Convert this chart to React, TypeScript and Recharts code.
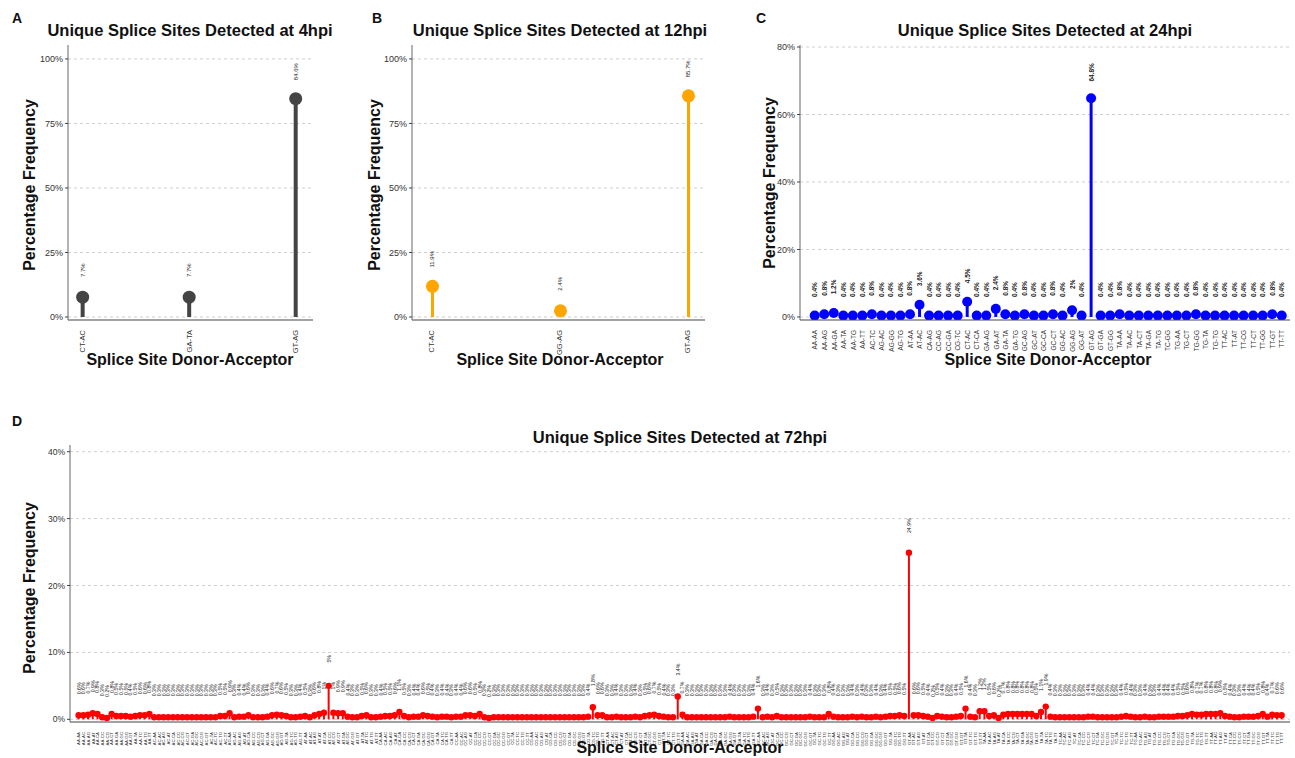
import React from 'react';
import { BarChart, Bar, XAxis, YAxis, CartesianGrid } from 'recharts';

const FONT = '"Liberation Sans", Arial, Helvetica, sans-serif';

// Panel A - 4hpi
const catsA = ['CT-AC', 'GA-TA', 'GT-AG'];
const valsA = [7.7, 7.7, 84.6];

// Panel B - 12hpi
const catsB = ['CT-AC', 'GG-AG', 'GT-AG'];
const valsB = [11.9, 2.4, 85.7];

// Panel C - 24hpi
const catsC = [
  'AA-AA', 'AA-AG', 'AA-GA', 'AA-TA', 'AA-TG', 'AA-TT', 'AC-TC', 'AG-AC', 'AG-GG', 'AG-TG',
  'AT-AA', 'AT-AC', 'CA-AG', 'CC-AG', 'CC-GA', 'CG-TC', 'CT-AC', 'CT-CA', 'GA-AG', 'GA-AT',
  'GA-TA', 'GA-TG', 'GC-AG', 'GC-AT', 'GC-CA', 'GC-CT', 'GG-AC', 'GG-AG', 'GG-AT', 'GT-AG',
  'GT-GA', 'GT-GG', 'TA-AA', 'TA-AC', 'TA-CT', 'TA-GA', 'TA-TG', 'TC-GG', 'TG-AA', 'TG-CT',
  'TG-GG', 'TG-TA', 'TG-TG', 'TT-AC', 'TT-AT', 'TT-CG', 'TT-CT', 'TT-GG', 'TT-GT', 'TT-TT',
];
const valsC = [
  0.4, 0.8, 1.2, 0.4, 0.4, 0.4, 0.8, 0.4, 0.4, 0.4,
  0.8, 3.6, 0.4, 0.4, 0.4, 0.4, 4.5, 0.4, 0.4, 2.4,
  0.8, 0.4, 0.8, 0.4, 0.4, 0.8, 0.4, 2, 0.4, 64.8,
  0.4, 0.4, 0.8, 0.4, 0.4, 0.4, 0.4, 0.4, 0.4, 0.4,
  0.8, 0.4, 0.4, 0.4, 0.4, 0.4, 0.4, 0.4, 0.8, 0.4,
];

// Panel D - 72hpi
const catsD = `
AA-AA AA-AC AA-AG AA-AT AA-CA AA-CC AA-CG AA-CT AA-GA AA-GC AA-GG AA-GT AA-TA AA-TC AA-TG AA-TT
AC-AA AC-AC AC-AG AC-AT AC-CA AC-CC AC-CG AC-CT AC-GA AC-GC AC-GG AC-GT AC-TA AC-TC AC-TG AC-TT
AG-AA AG-AC AG-AG AG-AT AG-CA AG-CC AG-CG AG-CT AG-GA AG-GC AG-GG AG-GT AG-TA AG-TC AG-TG AG-TT
AT-AA AT-AC AT-AG AT-AT AT-CA AT-CC AT-CG AT-CT AT-GA AT-GC AT-GG AT-GT AT-TA AT-TC AT-TG AT-TT
CA-AA CA-AC CA-AG CA-AT CA-CA CA-CC CA-CG CA-CT CA-GA CA-GC CA-GG CA-GT CA-TA CA-TC CA-TG CA-TT
CC-AA CC-AC CC-AG CC-AT CC-CA CC-CC CC-CG CC-CT CC-GA CC-GC CC-GG CC-GT CC-TA CC-TC CC-TG CC-TT
CG-AA CG-AC CG-AG CG-AT CG-CA CG-CC CG-CG CG-CT CG-GA CG-GC CG-GG CG-GT CG-TA CG-TC CG-TG CG-TT
CT-AA CT-AC CT-AG CT-AT CT-CA CT-CC CT-CG CT-CT CT-GA CT-GC CT-GG CT-GT CT-TA CT-TC CT-TG CT-TT
GA-AA GA-AC GA-AG GA-AT GA-CA GA-CC GA-CG GA-CT GA-GA GA-GC GA-GG GA-GT GA-TA GA-TC GA-TG GA-TT
GC-AA GC-AC GC-AG GC-AT GC-CA GC-CC GC-CG GC-CT GC-GA GC-GC GC-GG GC-GT GC-TA GC-TC GC-TG GC-TT
GG-AA GG-AC GG-AG GG-AT GG-CA GG-CC GG-CG GG-CT GG-GA GG-GC GG-GG GG-GT GG-TA GG-TC GG-TG GG-TT
GT-AA GT-AC GT-AG GT-AT GT-CA GT-CC GT-CG GT-CT GT-GA GT-GC GT-GG GT-GT GT-TA GT-TC GT-TG GT-TT
TA-AA TA-AC TA-AG TA-AT TA-CA TA-CC TA-CG TA-CT TA-GA TA-GC TA-GG TA-GT TA-TA TA-TC TA-TG TA-TT
TC-AA TC-AC TC-AG TC-AT TC-CA TC-CC TC-CG TC-CT TC-GA TC-GC TC-GG TC-GT TC-TA TC-TC TC-TG TC-TT
TG-AA TG-AC TG-AG TG-AT TG-CA TG-CC TG-CG TG-CT TG-GA TG-GC TG-GG TG-GT TG-TA TG-TC TG-TG TG-TT
TT-AA TT-AC TT-AG TT-AT TT-CA TT-CC TT-CG TT-CT TT-GA TT-GC TT-GG TT-GT TT-TA TT-TC TT-TG TT-TT
`.trim().split(/\s+/);
const valsD = [
  0.6, 0.6, 0.7, 0.9, 0.8, 0.3, 0.2, 0.8, 0.5, 0.5, 0.5, 0.4, 0.5, 0.6, 0.6, 0.8,
  0.3, 0.3, 0.3, 0.3, 0.3, 0.3, 0.3, 0.3, 0.3, 0.3, 0.3, 0.3, 0.3, 0.3, 0.5, 0.5,
  0.9, 0.3, 0.4, 0.4, 0.6, 0.3, 0.3, 0.3, 0.4, 0.6, 0.7, 0.6, 0.5, 0.3, 0.3, 0.4,
  0.5, 0.3, 0.6, 0.8, 1.0, 5, 1.0, 0.9, 0.9, 0.4, 0.3, 0.3, 0.5, 0.6, 0.3, 0.3,
  0.4, 0.5, 0.5, 0.6, 1.1, 0.5, 0.3, 0.4, 0.4, 0.6, 0.5, 0.4, 0.3, 0.4, 0.4, 0.3,
  0.4, 0.4, 0.6, 0.6, 0.5, 0.8, 0.3, 0.2, 0.3, 0.3, 0.3, 0.3, 0.3, 0.3, 0.3, 0.3,
  0.3, 0.3, 0.3, 0.3, 0.3, 0.3, 0.3, 0.3, 0.3, 0.3, 0.3, 0.3, 0.4, 1.8, 0.6, 0.6,
  0.3, 0.3, 0.4, 0.3, 0.3, 0.3, 0.4, 0.3, 0.5, 0.6, 0.7, 0.5, 0.4, 0.3, 0.3, 3.4,
  0.7, 0.3, 0.3, 0.3, 0.3, 0.3, 0.3, 0.3, 0.3, 0.3, 0.4, 0.3, 0.3, 0.3, 0.3, 0.4,
  1.6, 0.3, 0.4, 0.3, 0.5, 0.3, 0.3, 0.3, 0.3, 0.3, 0.3, 0.4, 0.3, 0.3, 0.3, 0.8,
  0.4, 0.3, 0.3, 0.3, 0.4, 0.3, 0.4, 0.3, 0.3, 0.4, 0.3, 0.4, 0.5, 0.5, 0.6, 0.5,
  24.9, 0.6, 0.6, 0.5, 0.4, 0.2, 0.5, 0.4, 0.3, 0.3, 0.4, 0.5, 1.6, 0.4, 0.3, 1.2,
  1.2, 0.5, 0.6, 0.2, 0.7, 0.8, 0.8, 0.8, 0.8, 0.8, 0.8, 0.5, 1.1, 1.9, 0.4, 0.3,
  0.3, 0.3, 0.3, 0.3, 0.3, 0.3, 0.4, 0.4, 0.3, 0.3, 0.3, 0.3, 0.3, 0.4, 0.5, 0.4,
  0.3, 0.3, 0.4, 0.3, 0.3, 0.4, 0.4, 0.4, 0.4, 0.5, 0.5, 0.6, 0.8, 0.7, 0.7, 0.8,
  0.8, 0.8, 0.9, 0.5, 0.4, 0.3, 0.3, 0.4, 0.4, 0.4, 0.5, 0.8, 0.4, 0.7, 0.6, 0.6,
];

const ticksAB = [0, 25, 50, 75, 100];
const ticksC = [0, 20, 40, 60, 80];
const ticksD = [0, 10, 20, 30, 40];

type Box = { x: number; y: number; w: number; h: number };
type Plot = { l: number; t: number; r: number; b: number };

interface LollipopProps {
  box: Box;
  plot: Plot;
  cats: string[];
  vals: number[];
  color: string;
  xDomain: [number, number];
  yDomain: [number, number];
  yTicks: number[];
  radius: number;
  stem: number;
  labelSize: number;
  labelWeight?: string;
  labelOffset: number;
  tickSize: number;
  yTickSize: number;
}

const Lollipop: React.FC<LollipopProps> = (p) => {
  const data = p.cats.map((name, i) => ({ i, name, value: p.vals[i] }));
  const Y_W = 40;
  const X_H = 30;
  const margin = {
    left: p.plot.l - p.box.x - Y_W,
    top: p.plot.t - p.box.y,
    right: p.box.x + p.box.w - p.plot.r,
    bottom: p.box.y + p.box.h - p.plot.b - X_H,
  };

  const renderStem = (props: any) => {
    const { x, y, width, height, payload } = props;
    const cx = x + width / 2;
    const ly = y - p.labelOffset;
    return (
      <g>
        <line x1={cx} y1={y} x2={cx} y2={y + height} stroke={p.color} strokeWidth={p.stem} />
        <circle cx={cx} cy={y} r={p.radius} fill={p.color} />
        <text
          x={cx}
          y={ly}
          transform={`rotate(-90, ${cx}, ${ly})`}
          textAnchor="middle"
          dominantBaseline="central"
          fontSize={p.labelSize}
          fontWeight={p.labelWeight || 'normal'}
          fontFamily={FONT}
          fill="#222"
        >
          {`${payload.value}%`}
        </text>
      </g>
    );
  };

  const renderTick = (props: any) => {
    const { x, y, payload } = props;
    const ty = y + 2;
    return (
      <text
        x={x}
        y={ty}
        transform={`rotate(-90, ${x}, ${ty})`}
        textAnchor="end"
        dominantBaseline="central"
        fontSize={p.tickSize}
        fontFamily={FONT}
        fill="#333"
      >
        {p.cats[payload.value]}
      </text>
    );
  };

  return (
    <div style={{ position: 'absolute', left: p.box.x, top: p.box.y }}>
      <BarChart width={p.box.w} height={p.box.h} data={data} margin={margin}>
        <CartesianGrid
          vertical={false}
          stroke="#cfcfcf"
          strokeDasharray="3 3"
          horizontalValues={p.yTicks}
        />
        <XAxis
          type="number"
          dataKey="i"
          domain={p.xDomain}
          allowDataOverflow
          ticks={data.map((d) => d.i)}
          interval={0}
          height={X_H}
          tick={renderTick}
          tickLine={false}
          axisLine={{ stroke: '#444', strokeWidth: 1.2 }}
        />
        <YAxis
          type="number"
          domain={p.yDomain}
          allowDataOverflow
          ticks={p.yTicks}
          interval={0}
          width={Y_W}
          tickFormatter={(v: number) => `${v}%`}
          tick={{ fontSize: p.yTickSize, fill: '#333', fontFamily: FONT }}
          tickSize={3}
          tickLine={{ stroke: '#444' }}
          axisLine={{ stroke: '#666' }}
        />
        <Bar dataKey="value" barSize={p.stem} shape={renderStem} isAnimationActive={false} />
      </BarChart>
    </div>
  );
};

const Txt: React.FC<{ x: number; y: number; size: number; rotate?: boolean; children: React.ReactNode }> = ({
  x,
  y,
  size,
  rotate,
  children,
}) => (
  <div
    style={{
      position: 'absolute',
      left: x,
      top: y,
      transform: `translate(-50%, -50%)${rotate ? ' rotate(-90deg)' : ''}`,
      whiteSpace: 'nowrap',
      fontSize: size,
      fontWeight: 'bold',
      color: '#111',
      lineHeight: 1,
    }}
  >
    {children}
  </div>
);

export default function App() {
  return (
    <div
      style={{
        position: 'absolute',
        left: 0,
        top: 0,
        width: 1295,
        height: 758,
        background: '#fff',
        fontFamily: FONT,
        overflow: 'hidden',
      }}
    >
      <Lollipop
        box={{ x: 0, y: 0, w: 360, h: 370 }}
        plot={{ l: 68, t: 45, r: 313, b: 320 }}
        cats={catsA}
        vals={valsA}
        color="#444444"
        xDomain={[-0.14, 2.16]}
        yDomain={[-1.16, 105.4]}
        yTicks={ticksAB}
        radius={6.5}
        stem={4}
        labelSize={6}
        labelOffset={27}
        tickSize={7.5}
        yTickSize={9}
      />
      <Lollipop
        box={{ x: 350, y: 0, w: 370, h: 370 }}
        plot={{ l: 412, t: 45, r: 705, b: 320 }}
        cats={catsB}
        vals={valsB}
        color="#FFA500"
        xDomain={[-0.156, 2.133]}
        yDomain={[-1.16, 105.4]}
        yTicks={ticksAB}
        radius={6.5}
        stem={3}
        labelSize={6}
        labelOffset={27}
        tickSize={7.5}
        yTickSize={9}
      />
      <Lollipop
        box={{ x: 730, y: 0, w: 565, h: 370 }}
        plot={{ l: 800, t: 45, r: 1290, b: 320 }}
        cats={catsC}
        vals={valsC}
        color="#0000FF"
        xDomain={[-1.57, 49.84]}
        yDomain={[-0.9, 80.6]}
        yTicks={ticksC}
        radius={5}
        stem={3}
        labelSize={6.5}
        labelWeight="bold"
        labelOffset={26}
        tickSize={6.5}
        yTickSize={9}
      />
      <Lollipop
        box={{ x: 0, y: 400, w: 1295, h: 358 }}
        plot={{ l: 70, t: 445, r: 1290, b: 722 }}
        cats={catsD}
        vals={valsD}
        color="#FF0000"
        xDomain={[-1.9, 256.7]}
        yDomain={[-0.4, 41]}
        yTicks={ticksD}
        radius={3.2}
        stem={2}
        labelSize={5.2}
        labelOffset={27}
        tickSize={4.3}
        yTickSize={8.5}
      />

      <Txt x={17} y={18} size={14}>A</Txt>
      <Txt x={190} y={30} size={16.5}>Unique Splice Sites Detected at 4hpi</Txt>
      <Txt x={30} y={185} size={16} rotate>Percentage Frequency</Txt>
      <Txt x={190} y={360} size={16}>Splice Site Donor-Acceptor</Txt>

      <Txt x={377} y={18} size={14}>B</Txt>
      <Txt x={560} y={30} size={16.5}>Unique Splice Sites Detected at 12hpi</Txt>
      <Txt x={375} y={185} size={16} rotate>Percentage Frequency</Txt>
      <Txt x={560} y={360} size={16}>Splice Site Donor-Acceptor</Txt>

      <Txt x={761} y={18} size={14}>C</Txt>
      <Txt x={1045} y={30} size={16.5}>Unique Splice Sites Detected at 24hpi</Txt>
      <Txt x={770} y={183} size={16} rotate>Percentage Frequency</Txt>
      <Txt x={1048} y={360} size={16}>Splice Site Donor-Acceptor</Txt>

      <Txt x={17} y={421} size={14}>D</Txt>
      <Txt x={680} y={437} size={16.5}>Unique Splice Sites Detected at 72hpi</Txt>
      <Txt x={30} y={588} size={16} rotate>Percentage Frequency</Txt>
      <Txt x={680} y={748} size={16}>Splice Site Donor-Acceptor</Txt>
    </div>
  );
}
